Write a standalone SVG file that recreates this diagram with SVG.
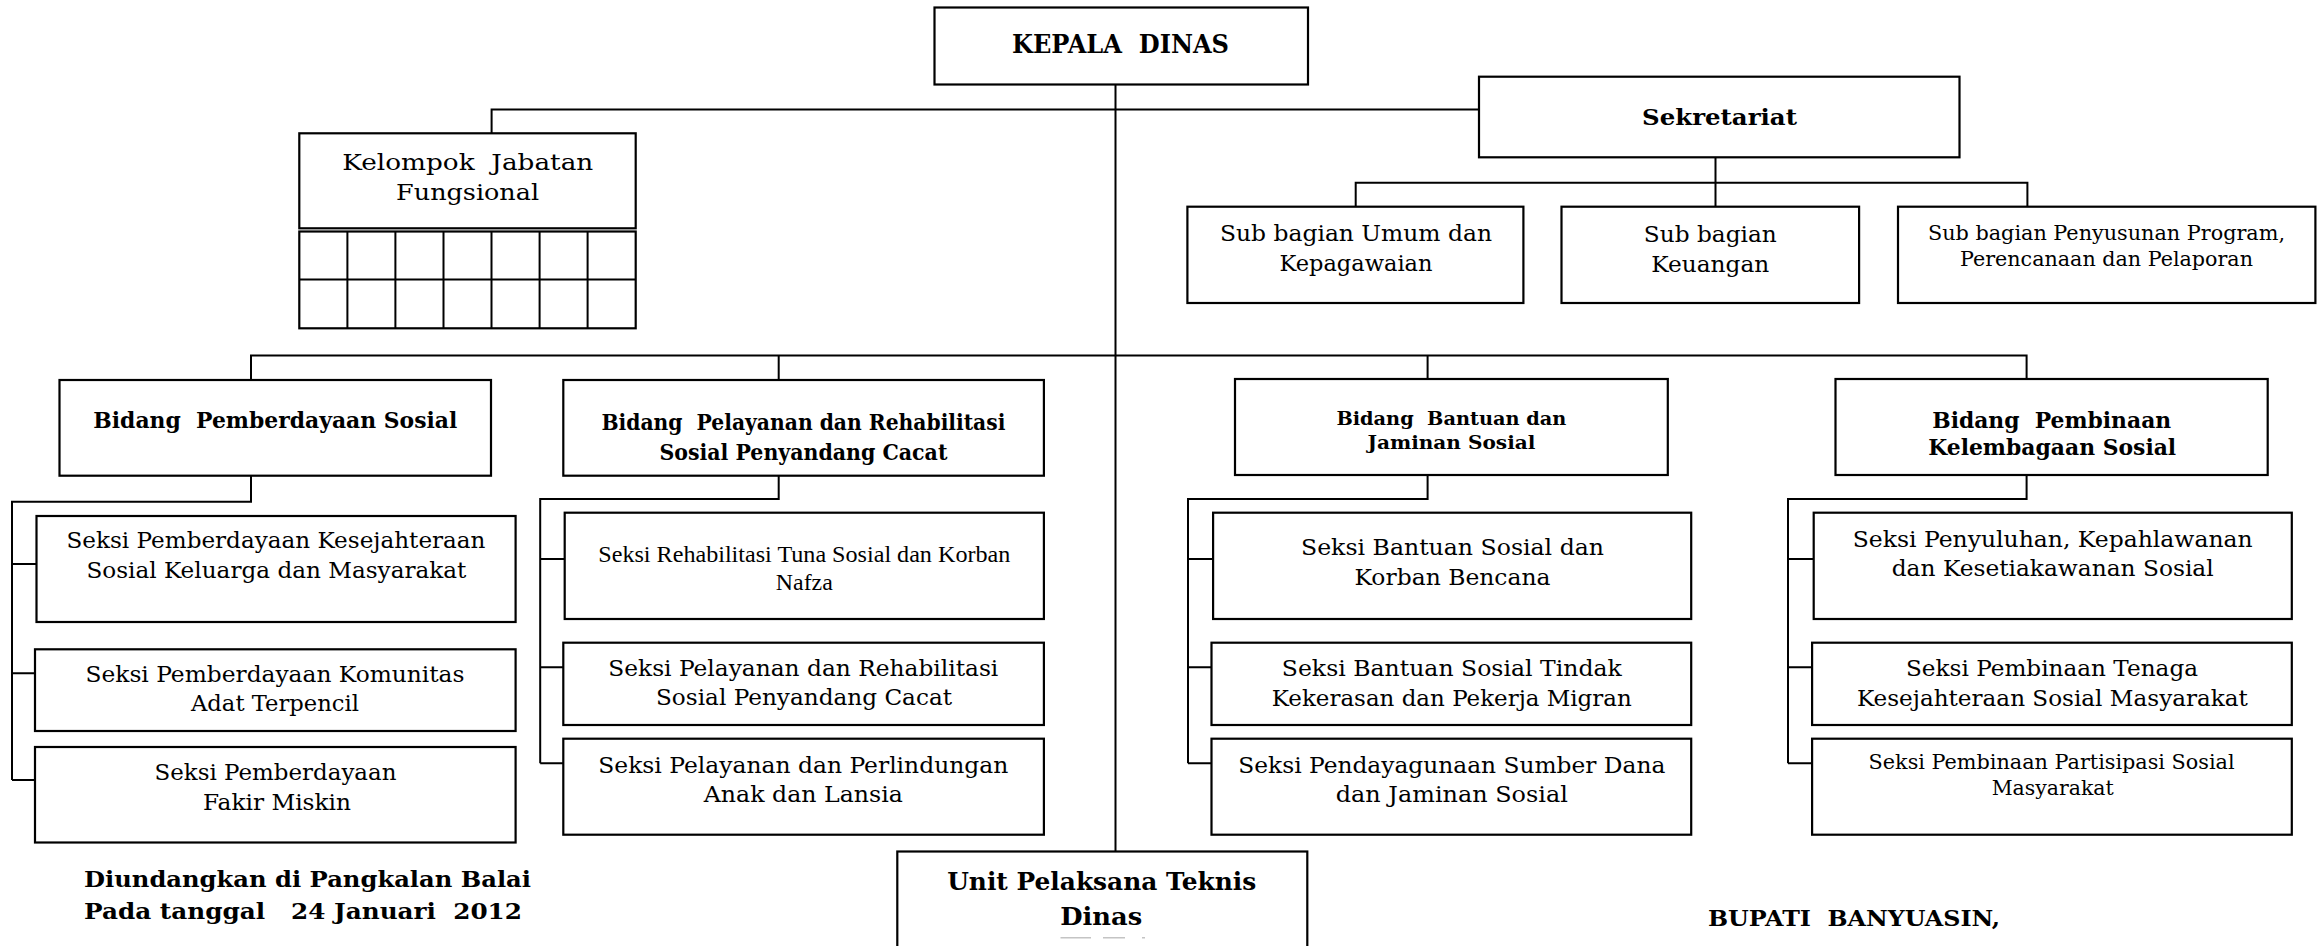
<svg xmlns="http://www.w3.org/2000/svg" width="2323" height="946" viewBox="0 0 2323 946">
<style>
.bx{fill:#fff;stroke:#000;stroke-width:2.2}
.ln{fill:none;stroke:#000;stroke-width:2}
text{fill:#000;white-space:pre}
.r{font-family:"DejaVu Serif","Liberation Serif",serif;font-size:23px;text-anchor:middle}
.rs{font-family:"DejaVu Serif","Liberation Serif",serif;font-size:21px;text-anchor:middle}
.t{font-family:"Liberation Serif","Times New Roman",serif;font-size:24px;text-anchor:middle}
.b{font-family:"DejaVu Serif","Liberation Serif",serif;font-weight:bold;font-size:22px;text-anchor:middle}
.bs{font-family:"DejaVu Serif","Liberation Serif",serif;font-weight:bold;font-size:19px;text-anchor:middle}
.bl{font-family:"DejaVu Serif","Liberation Serif",serif;font-weight:bold;font-size:23px}
</style>
<rect width="2323" height="946" fill="#fff"/>
<g id="connectors">
<path class="ln" d="M1115.5 84.5V851.5"/>
<path class="ln" d="M491.6 133.3V109.5H1479"/>
<path class="ln" d="M1715.5 157.3V206.7M1355.7 206.7V182.7H2027.4V206.7"/>
<path class="ln" d="M251 380V355.5H2026.6V379M778.7 355.5V380M1427.6 355.5V379"/>
<path class="ln" d="M251 475.7V501.7H12V780M12 564H36.5M12 673.3H35M12 780H35"/>
<path class="ln" d="M778.7 475.7V499H540.2V763.3M540.2 559H564.7M540.2 667.3H563.3M540.2 763.3H563.3"/>
<path class="ln" d="M1427.6 475V499H1188V763.3M1188 559H1213.1M1188 667.3H1211.5M1188 763.3H1211.5"/>
<path class="ln" d="M2026.6 475V499H1788V763.3M1788 559H1813.7M1788 667.3H1812.1M1788 763.3H1812.1"/>
</g>
<g id="kepala">
<rect class="bx" x="934.5" y="7.5" width="373.5" height="77"/>
<text class="b" style="font-size:26px" x="1120.5" y="53.3" textLength="217" lengthAdjust="spacingAndGlyphs">KEPALA  DINAS</text>
</g>
<g id="kelompok">
<rect class="bx" x="299.3" y="133.3" width="336.4" height="95"/>
<text class="r" x="467.8" y="169.5" textLength="251" lengthAdjust="spacingAndGlyphs">Kelompok  Jabatan</text>
<text class="r" x="467.6" y="200" textLength="143" lengthAdjust="spacingAndGlyphs">Fungsional</text>
<rect class="bx" x="299.3" y="231.5" width="336.4" height="96.8"/>
<path class="ln" d="M299.3 279.5H635.7M347.4 231.5V328.3M395.4 231.5V328.3M443.5 231.5V328.3M491.5 231.5V328.3M539.6 231.5V328.3M587.6 231.5V328.3"/>
</g>
<g id="sekretariat">
<rect class="bx" x="1479" y="76.7" width="480.5" height="80.6"/>
<text class="b" style="font-size:23px" x="1719.5" y="125" textLength="155" lengthAdjust="spacingAndGlyphs">Sekretariat</text>
</g>
<g id="sub-umum">
<rect class="bx" x="1187.4" y="206.7" width="336" height="96.3"/>
<text class="r" x="1356" y="240.7" textLength="272" lengthAdjust="spacingAndGlyphs">Sub bagian Umum dan</text>
<text class="r" x="1356" y="270.5" textLength="153" lengthAdjust="spacingAndGlyphs">Kepagawaian</text>
</g>
<g id="sub-keuangan">
<rect class="bx" x="1561.5" y="206.7" width="297.6" height="96.3"/>
<text class="r" x="1710.3" y="242.3" textLength="133" lengthAdjust="spacingAndGlyphs">Sub bagian</text>
<text class="r" x="1710.3" y="271.7" textLength="118" lengthAdjust="spacingAndGlyphs">Keuangan</text>
</g>
<g id="sub-penyusunan">
<rect class="bx" x="1898" y="206.7" width="417.4" height="96.3"/>
<text class="rs" x="2106.5" y="240" textLength="357" lengthAdjust="spacingAndGlyphs">Sub bagian Penyusunan Program,</text>
<text class="rs" x="2106.5" y="265.7" textLength="293" lengthAdjust="spacingAndGlyphs">Perencanaan dan Pelaporan</text>
</g>
<g id="bidang-pemberdayaan">
<rect class="bx" x="59.5" y="380" width="431.5" height="95.7"/>
<text class="b" x="275.3" y="428" textLength="364" lengthAdjust="spacingAndGlyphs">Bidang  Pemberdayaan Sosial</text>
</g>
<g id="bidang-pelayanan">
<rect class="bx" x="563.3" y="380" width="480.6" height="95.7"/>
<text class="b" x="803.4" y="430" textLength="404" lengthAdjust="spacingAndGlyphs">Bidang  Pelayanan dan Rehabilitasi</text>
<text class="b" x="803.4" y="460" textLength="288" lengthAdjust="spacingAndGlyphs">Sosial Penyandang Cacat</text>
</g>
<g id="bidang-bantuan">
<rect class="bx" x="1235" y="379" width="432.8" height="96"/>
<text class="bs" x="1451.4" y="425" textLength="230" lengthAdjust="spacingAndGlyphs">Bidang  Bantuan dan</text>
<text class="bs" x="1451.4" y="449.3" textLength="168" lengthAdjust="spacingAndGlyphs">Jaminan Sosial</text>
</g>
<g id="bidang-pembinaan">
<rect class="bx" x="1835.5" y="379" width="432.2" height="96"/>
<text class="b" x="2051.7" y="427.7" textLength="239" lengthAdjust="spacingAndGlyphs">Bidang  Pembinaan</text>
<text class="b" x="2052.2" y="455" textLength="248" lengthAdjust="spacingAndGlyphs">Kelembagaan Sosial</text>
</g>
<g id="seksi-a">
<rect class="bx" x="36.5" y="516" width="479.1" height="106"/>
<text class="r" x="276" y="548.3" textLength="419" lengthAdjust="spacingAndGlyphs">Seksi Pemberdayaan Kesejahteraan</text>
<text class="r" x="276.4" y="577.7" textLength="380" lengthAdjust="spacingAndGlyphs">Sosial Keluarga dan Masyarakat</text>
</g>
<g id="seksi-b">
<rect class="bx" x="35" y="649.3" width="480.6" height="81.7"/>
<text class="r" x="275" y="681.7" textLength="379" lengthAdjust="spacingAndGlyphs">Seksi Pemberdayaan Komunitas</text>
<text class="r" x="275" y="711" textLength="168" lengthAdjust="spacingAndGlyphs">Adat Terpencil</text>
</g>
<g id="seksi-c">
<rect class="bx" x="35" y="747" width="480.6" height="95.5"/>
<text class="r" x="275.5" y="780" textLength="242" lengthAdjust="spacingAndGlyphs">Seksi Pemberdayaan</text>
<text class="r" x="277" y="809.5" textLength="148" lengthAdjust="spacingAndGlyphs">Fakir Miskin</text>
</g>
<g id="seksi-d">
<rect class="bx" x="564.7" y="512.7" width="479.2" height="106.3"/>
<text class="t" x="804.3" y="561.5" textLength="412" lengthAdjust="spacingAndGlyphs">Seksi Rehabilitasi Tuna Sosial dan Korban</text>
<text class="t" x="804.3" y="589.5" textLength="57" lengthAdjust="spacingAndGlyphs">Nafza</text>
</g>
<g id="seksi-e">
<rect class="bx" x="563.3" y="642.7" width="480.6" height="82.3"/>
<text class="r" x="803.3" y="675.5" textLength="390" lengthAdjust="spacingAndGlyphs">Seksi Pelayanan dan Rehabilitasi</text>
<text class="r" x="804" y="705" textLength="296" lengthAdjust="spacingAndGlyphs">Sosial Penyandang Cacat</text>
</g>
<g id="seksi-f">
<rect class="bx" x="563.3" y="738.7" width="480.6" height="96"/>
<text class="r" x="803.3" y="772.5" textLength="410" lengthAdjust="spacingAndGlyphs">Seksi Pelayanan dan Perlindungan</text>
<text class="r" x="803.3" y="802" textLength="199" lengthAdjust="spacingAndGlyphs">Anak dan Lansia</text>
</g>
<g id="seksi-g">
<rect class="bx" x="1213.1" y="512.7" width="478.1" height="106.3"/>
<text class="r" x="1452.5" y="555" textLength="303" lengthAdjust="spacingAndGlyphs">Seksi Bantuan Sosial dan</text>
<text class="r" x="1452.5" y="585" textLength="196" lengthAdjust="spacingAndGlyphs">Korban Bencana</text>
</g>
<g id="seksi-h">
<rect class="bx" x="1211.5" y="642.7" width="479.7" height="82.3"/>
<text class="r" x="1451.8" y="676" textLength="340" lengthAdjust="spacingAndGlyphs">Seksi Bantuan Sosial Tindak</text>
<text class="r" x="1451.8" y="705.7" textLength="360" lengthAdjust="spacingAndGlyphs">Kekerasan dan Pekerja Migran</text>
</g>
<g id="seksi-i">
<rect class="bx" x="1211.5" y="738.7" width="479.7" height="96"/>
<text class="r" x="1451.8" y="773" textLength="427" lengthAdjust="spacingAndGlyphs">Seksi Pendayagunaan Sumber Dana</text>
<text class="r" x="1451.8" y="802" textLength="232" lengthAdjust="spacingAndGlyphs">dan Jaminan Sosial</text>
</g>
<g id="seksi-j">
<rect class="bx" x="1813.7" y="512.7" width="478.1" height="106.3"/>
<text class="r" x="2052.7" y="546.7" textLength="400" lengthAdjust="spacingAndGlyphs">Seksi Penyuluhan, Kepahlawanan</text>
<text class="r" x="2052.7" y="575.5" textLength="322" lengthAdjust="spacingAndGlyphs">dan Kesetiakawanan Sosial</text>
</g>
<g id="seksi-k">
<rect class="bx" x="1812.1" y="642.7" width="479.7" height="82.3"/>
<text class="r" x="2052" y="676" textLength="292" lengthAdjust="spacingAndGlyphs">Seksi Pembinaan Tenaga</text>
<text class="r" x="2052.4" y="705.7" textLength="391" lengthAdjust="spacingAndGlyphs">Kesejahteraan Sosial Masyarakat</text>
</g>
<g id="seksi-l">
<rect class="bx" x="1812.1" y="738.7" width="479.7" height="96"/>
<text class="rs" x="2051.6" y="769" textLength="366" lengthAdjust="spacingAndGlyphs">Seksi Pembinaan Partisipasi Sosial</text>
<text class="rs" x="2052.7" y="795" textLength="122" lengthAdjust="spacingAndGlyphs">Masyarakat</text>
</g>
<g id="upt">
<rect class="bx" x="897.3" y="851.5" width="410" height="110"/>
<text class="b" style="font-size:25px" x="1101.7" y="890" textLength="309" lengthAdjust="spacingAndGlyphs">Unit Pelaksana Teknis</text>
<text class="b" style="font-size:25px" x="1101.2" y="925" textLength="82" lengthAdjust="spacingAndGlyphs">Dinas</text>
<path d="M1060.5 937.7H1091M1103 937.7H1125M1142 937.7H1145" stroke="#c4c4c4" stroke-width="1.5" fill="none"/>
</g>
<g id="footer">
<text class="bl" x="84" y="887.3" textLength="447" lengthAdjust="spacingAndGlyphs">Diundangkan di Pangkalan Balai</text>
<text class="bl" x="84" y="919" textLength="438" lengthAdjust="spacingAndGlyphs">Pada tanggal   24 Januari  2012</text>
<text class="bl" x="1708" y="926" textLength="292" lengthAdjust="spacingAndGlyphs">BUPATI  BANYUASIN,</text>
</g>
</svg>
